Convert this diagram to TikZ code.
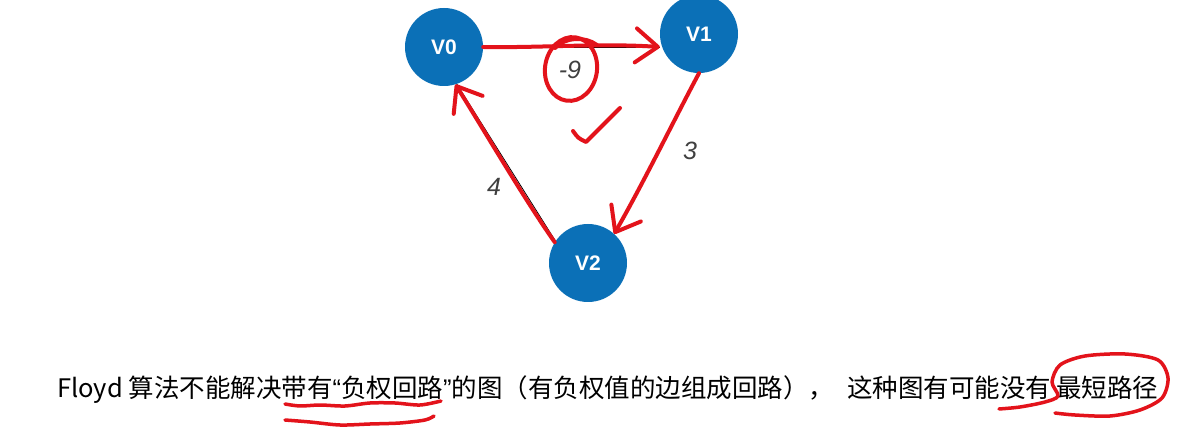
\documentclass[tikz,border=0pt]{standalone}
\usepackage{fontspec}
\setmainfont{Liberation Sans}
\newfontfamily\cjk{Noto Sans CJK SC}
\usetikzlibrary{arrows.meta}
\definecolor{nodeblue}{HTML}{0B70B7}
\definecolor{penred}{HTML}{E3131B}
\newcommand{\myLQ}{{\rmfamily “}}
\newcommand{\myRQ}{{\rmfamily ”}}
\begin{document}
\begin{tikzpicture}[x=1pt,y=-1pt,
  vert/.style={circle,fill=nodeblue,minimum size=78pt,inner sep=0pt,text=white,font=\fontsize{21}{21}\selectfont\bfseries},
  wlabel/.style={font=\fontsize{25}{25}\selectfont\itshape,text=black!75,inner sep=0pt},
  edge/.style={line width=0.8pt,black},
  pen/.style={draw=penred,line width=4pt,line cap=round,line join=round},
  barb/.style={-{Straight Barb[length=22pt,width=34pt,round]}}
]
\useasboundingbox (0,0) rectangle (1186,435);
\fill[white] (0,0) rectangle (1186,435);

% vertices
\node[vert] (V0) at (444,47) {V0};
\node[vert] (V1) at (699,34) {V1};
\node[vert] (V2) at (588,263) {V2};

% original edges (thin black)
\draw[edge] (V0.east) -- (V1.west |- V0.east);
\draw[edge] (V1.south) -- (V2.48);
\draw[edge] (V2.146) -- (V0.-71);

% weights
\node[wlabel] (w01) at (570,70) {-9};
\node[wlabel] (w12) at (690,151) {3};
\node[wlabel] (w20) at (494,187) {4};

% red hand-drawn strokes over edges
\draw[pen,barb] (V0.east) .. controls (540,48) and (600,43) .. (V1.west |- V0.east);
\draw[pen,barb] (V1.south) .. controls (675,118) and (645,180) .. (V2.48);
\draw[pen,barb] (V2.148) .. controls (525,200) and (490,140) .. (V0.-73);

% circle round -9
\draw[pen,rotate around={-8:(571,69)}] (571,69) ellipse [x radius=26, y radius=32];
\draw[pen] (555,48) .. controls (565,37) and (585,36) .. (597,45);

% check mark
\draw[pen] (573,131) .. controls (578,138) .. (586,142) -- (620,108);

% bottom text
\node[anchor=base west,inner sep=0pt,font=\cjk\fontsize{25.5}{25.5}\selectfont] (txt) at (57,398)
  {Floyd 算法不能解决带有\myLQ 负权回路\myRQ 的图（有负权值的边组成回路），\hspace{13pt}这种图有可能没有\hspace{5pt}最短路径};

% underlines
\draw[pen,line width=3.5pt] plot[smooth] coordinates {(285,404)(300,406)(320,405)(345,406)(370,403)(395,403)(420,405)(441,401)};
\draw[pen,line width=3.5pt] plot[smooth] coordinates {(285,420)(310,422)(340,425)(370,424)(400,423)(425,420)(434,416)};
\draw[pen,line width=3.5pt] plot[smooth] coordinates {(999,409)(1020,407)(1045,402)(1058,396)(1052,382)(1060,365)(1085,356)(1125,354)(1158,360)(1168,378)(1162,398)(1140,410)(1110,416)(1075,415)(1055,413)};
\end{tikzpicture}
\end{document}
